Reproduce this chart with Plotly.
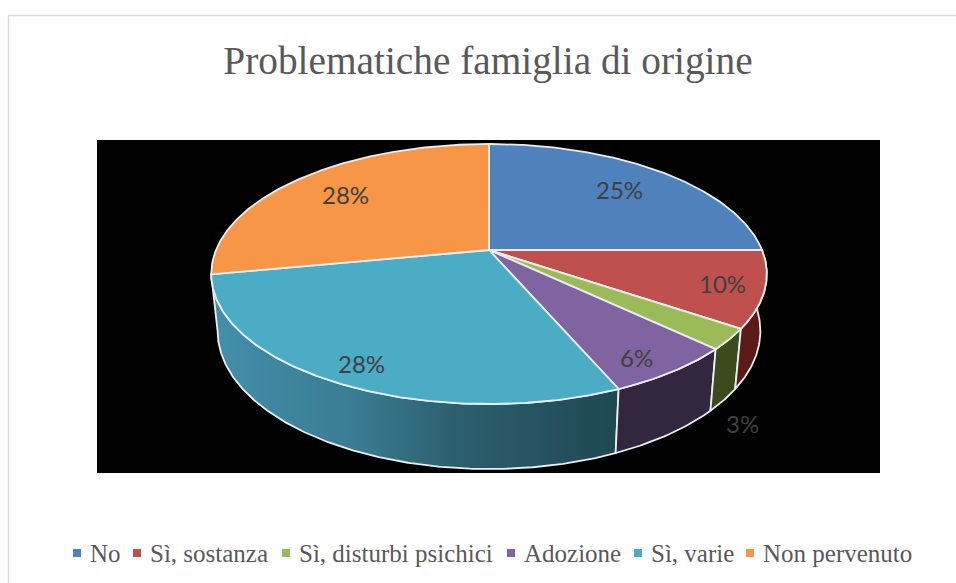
import math
import plotly.graph_objects as go

TITLE = "Problematiche famiglia di origine"
CATEGORIES = ["No", "Sì, sostanza", "Sì, disturbi psichici", "Adozione", "Sì, varie", "Non pervenuto"]
VALUES = [25, 9.5, 2.6, 6.45, 28.45, 28]
PERCENT_LABELS = ["25%", "10%", "3%", "6%", "28%", "28%"]
COLORS = ["#4f81bd", "#c0504d", "#9bbb59", "#8064a2", "#4bacc6", "#f79646"]
SIDE_COLORS = ["#5a1a18", "#5a1a18", "#3d4a1c", "#33263f", None, "#8f5626"]
LABEL_RADIUS = [0.741, 0.855, 1.326, 0.875, 0.87, 0.743]
LABEL_TURN = [0, 0, 17.2, 2.6, -0.6, 0.3]
LEGEND_MARK_X = [77, 137, 286, 511, 638, 750]
LEGEND_Y = 553
W, H = 956, 583
SERIF = "Liberation Serif"
SANS = "Lato"
EDGE = "#e9eef0"


def project(theta, r=1.0):
    """Tilted circle: pie angle (degrees clockwise from top) to page position."""
    u = r * math.sin(math.radians(theta))
    v = r * math.cos(math.radians(theta))
    d = 1 + 0.1846 * v
    return 489 + 273 * u / d, 250 - 125.6 * v / d


def lower(x, y):
    return 489 + (x - 489) * 0.977, 331 + (y - 274) * 1.0615


def arc(a, b):
    n = max(2, int(abs(b - a) * 2))
    return [project(a + (b - a) * i / n) for i in range(n + 1)]


total = sum(VALUES)
edges = [0.0]
for value in VALUES:
    edges.append(edges[-1] + value / total * 360)

fig = go.Figure()

# visible sides of the slab, between the right silhouette and the left one
for i in [4, 3, 2, 1]:
    a, b = max(edges[i], 90), edges[i + 1]
    top = arc(a, b)
    bottom = [lower(*p) for p in top]
    ring = top + bottom[::-1] + [top[0]]
    style = dict(fillcolor=SIDE_COLORS[i]) if SIDE_COLORS[i] else dict(
        fillgradient=dict(
            type="horizontal",
            colorscale=[[0, "#438fab"], [0.35, "#3a7c93"], [0.6, "#2c5f6e"], [1, "#1f4852"]],
        )
    )
    fig.add_trace(go.Scatter(
        x=[p[0] for p in ring], y=[p[1] for p in ring], mode="lines", fill="toself",
        line=dict(color=EDGE, width=1.8), hoverinfo="skip", showlegend=False, **style,
    ))

# top faces
for i, name in enumerate(CATEGORIES):
    wedge = [project(0, 0)] + arc(edges[i], edges[i + 1]) + [project(0, 0)]
    fig.add_trace(go.Scatter(
        x=[p[0] for p in wedge], y=[p[1] for p in wedge], mode="lines", fill="toself",
        fillcolor=COLORS[i], line=dict(color=EDGE, width=1.8),
        name=name, text=PERCENT_LABELS[i], hoverinfo="name+text", showlegend=False,
    ))

# percent labels
for i, text in enumerate(PERCENT_LABELS):
    x, y = project((edges[i] + edges[i + 1]) / 2 + LABEL_TURN[i], LABEL_RADIUS[i])
    fig.add_annotation(x=x, y=y, text=text, showarrow=False,
                       font=dict(family=SANS, size=24, color="#404040"))

# legend row
for i, name in enumerate(CATEGORIES):
    fig.add_trace(go.Scatter(
        x=[LEGEND_MARK_X[i]], y=[LEGEND_Y], mode="markers",
        marker=dict(symbol="square", size=8, color=COLORS[i]),
        hoverinfo="skip", showlegend=False,
    ))
    fig.add_annotation(x=LEGEND_MARK_X[i] + 11, y=LEGEND_Y, text=name, showarrow=False,
                       xanchor="left", font=dict(family=SERIF, size=25, color="#595959"))

fig.update_layout(
    width=W, height=H, autosize=False,
    margin=dict(l=0, r=0, t=0, b=0),
    paper_bgcolor="white", plot_bgcolor="white", showlegend=False,
    title=dict(text=TITLE, x=488 / W, xanchor="center", y=1 - 60 / H, yanchor="middle",
               font=dict(family=SERIF, size=39.3, color="#595959")),
    xaxis=dict(range=[0, W], visible=False, fixedrange=True),
    yaxis=dict(range=[H, 0], visible=False, fixedrange=True),
    shapes=[
        dict(type="rect", layer="below", x0=97, x1=880, y0=140, y1=473,
             fillcolor="black", line=dict(width=0)),
        dict(type="line", layer="below", x0=8, x1=W, y0=15.5, y1=15.5,
             line=dict(color="#d9d9d9", width=1.5)),
        dict(type="line", layer="below", x0=8.5, x1=8.5, y0=15, y1=H,
             line=dict(color="#d9d9d9", width=1.5)),
    ],
)
fig.write_html(
    "out.html",
    config=dict(displayModeBar=False),
    post_script="document.body.style.margin='0';document.documentElement.style.overflow='hidden';",
)
